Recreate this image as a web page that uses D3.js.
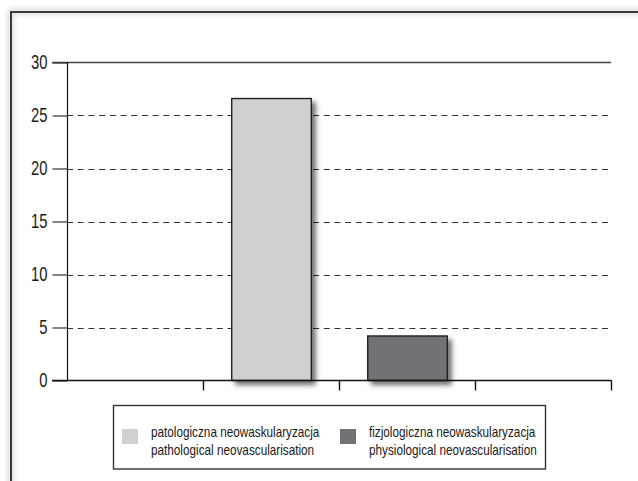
<!DOCTYPE html>
<html>
<head>
<meta charset="utf-8">
<script src="https://cdn.jsdelivr.net/npm/d3@7"></script>
<style>
  html, body { margin: 0; padding: 0; background: #fff; }
  svg { display: block; }
  text { font-family: "Liberation Sans", Arial, sans-serif; }
</style>
</head>
<body>
<svg id="chart" width="638" height="481"></svg>
<script>
// Category slots along the x axis (outer two are empty)
const slots = ["s0", "s1", "s2", "s3"];
// Bar values per series and the slot each occupies
const seriesNames = [
  ["patologiczna neowaskularyzacja", "pathological neovascularisation"],
  ["fizjologiczna neowaskularyzacja", "physiological neovascularisation"]
];
const seriesSlots = ["s1", "s2"];
const seriesValues = [26.6, 4.2];
const seriesColors = ["#d0d0d3", "#737076"];
const yTicks = [0, 5, 10, 15, 20, 25, 30];

const svg = d3.select("#chart");
const plotL = 67, plotR = 611, plotT = 62.5, plotB = 380.5;
// Condensed look: Arial-metric glyphs squeezed horizontally
const condense = 0.74;
const legendCondense = 0.84;

const defs = svg.append("defs");
const sh = defs.append("filter").attr("id", "barShadow")
  .attr("x", "-20%").attr("y", "-20%").attr("width", "150%").attr("height", "150%");
sh.append("feDropShadow").attr("dx", 4).attr("dy", 4).attr("stdDeviation", 2.5)
  .attr("flood-color", "#000").attr("flood-opacity", 0.55);
const glow = defs.append("filter").attr("id", "frameGlow")
  .attr("x", "-10%").attr("y", "-10%").attr("width", "120%").attr("height", "120%");
glow.append("feGaussianBlur").attr("stdDeviation", 3);

// Outer frame with soft halo
svg.append("path").attr("d", "M10.5,490 V11.5 H650")
  .attr("fill", "none").attr("stroke", "#bbb").attr("stroke-width", 3)
  .attr("filter", "url(#frameGlow)");
svg.append("path").attr("d", "M11,490 V12 H650")
  .attr("fill", "none").attr("stroke", "#3a3a3a").attr("stroke-width", 2);

const x = d3.scaleBand().domain(slots).range([plotL, plotR]).paddingInner(0.415).paddingOuter(0.2075);
const xEdges = d3.scaleBand().domain(slots).range([plotL, plotR]).padding(0);
const y = d3.scaleLinear().domain([0, 30]).range([plotB, plotT]);

// Dashed gridlines
svg.append("g").selectAll("line").data(yTicks.filter(d => d > 0 && d < 30)).join("line")
  .attr("x1", plotL).attr("x2", plotR)
  .attr("y1", d => Math.round(y(d)) + 0.5).attr("y2", d => Math.round(y(d)) + 0.5)
  .attr("stroke", "#333").attr("stroke-width", 1).attr("stroke-dasharray", "6,4.7");

// Top solid line at the maximum
svg.append("line").attr("x1", 52).attr("x2", plotR)
  .attr("y1", y(30)).attr("y2", y(30))
  .attr("stroke", "#444").attr("stroke-width", 1.6);

// Bars
svg.append("g").selectAll("rect").data(seriesValues).join("rect")
  .attr("x", (d, i) => x(seriesSlots[i]) + 0.5)
  .attr("width", x.bandwidth())
  .attr("y", d => y(d))
  .attr("height", d => y(0) - y(d))
  .attr("fill", (d, i) => seriesColors[i])
  .attr("stroke", "#222").attr("stroke-width", 1.4)
  .attr("filter", "url(#barShadow)");

// Y axis with left ticks and labels
const yAxis = d3.axisLeft(y).tickValues(yTicks).tickSize(15).tickPadding(5).tickFormat(d3.format("d"));
const gy = svg.append("g").attr("transform", `translate(${plotL + 0.5},0)`).call(yAxis);
gy.select(".domain").remove();
gy.selectAll(".tick line").attr("stroke", "#333").attr("stroke-width", 1.2);
gy.selectAll(".tick text")
  .attr("font-size", 20).attr("fill", "#1a1a1a")
  .style("font-family", "'Liberation Sans', Arial, sans-serif")
  .attr("transform", function () {
    const xx = +d3.select(this).attr("x");
    return `translate(${xx},0) scale(${condense},1) translate(${-xx},0)`;
  });
svg.append("line").attr("x1", plotL + 0.5).attr("x2", plotL + 0.5)
  .attr("y1", y(30)).attr("y2", y(0)).attr("stroke", "#111").attr("stroke-width", 1.2);

// X axis baseline and slot-boundary ticks
svg.append("line").attr("x1", 52).attr("x2", plotR + 0.5)
  .attr("y1", y(0)).attr("y2", y(0)).attr("stroke", "#111").attr("stroke-width", 1.4);
svg.append("g").selectAll("line").data(slots).join("line")
  .attr("x1", d => Math.round(xEdges(d) + xEdges.bandwidth()) + 0.5)
  .attr("x2", d => Math.round(xEdges(d) + xEdges.bandwidth()) + 0.5)
  .attr("y1", y(0)).attr("y2", y(0) + 10)
  .attr("stroke", "#111").attr("stroke-width", 1.4);

// Legend
const lg = svg.append("g");
lg.append("rect").attr("x", 113.5).attr("y", 405.5).attr("width", 432).attr("height", 63.5)
  .attr("fill", "#fff").attr("stroke", "#333").attr("stroke-width", 1.4);
const itemX = [122, 340];
seriesNames.forEach((names, i) => {
  lg.append("rect").attr("x", itemX[i]).attr("y", 429).attr("width", 16).attr("height", 15)
    .attr("fill", seriesColors[i]);
  names.forEach((t, j) => {
    const tx = itemX[i] + 29;
    lg.append("text").attr("x", tx).attr("y", 437 + j * 18.5)
      .attr("font-size", 14).attr("fill", "#1a1a1a")
      .attr("transform", `translate(${tx},0) scale(${legendCondense},1) translate(${-tx},0)`)
      .text(t);
  });
});
</script>
</body>
</html>
